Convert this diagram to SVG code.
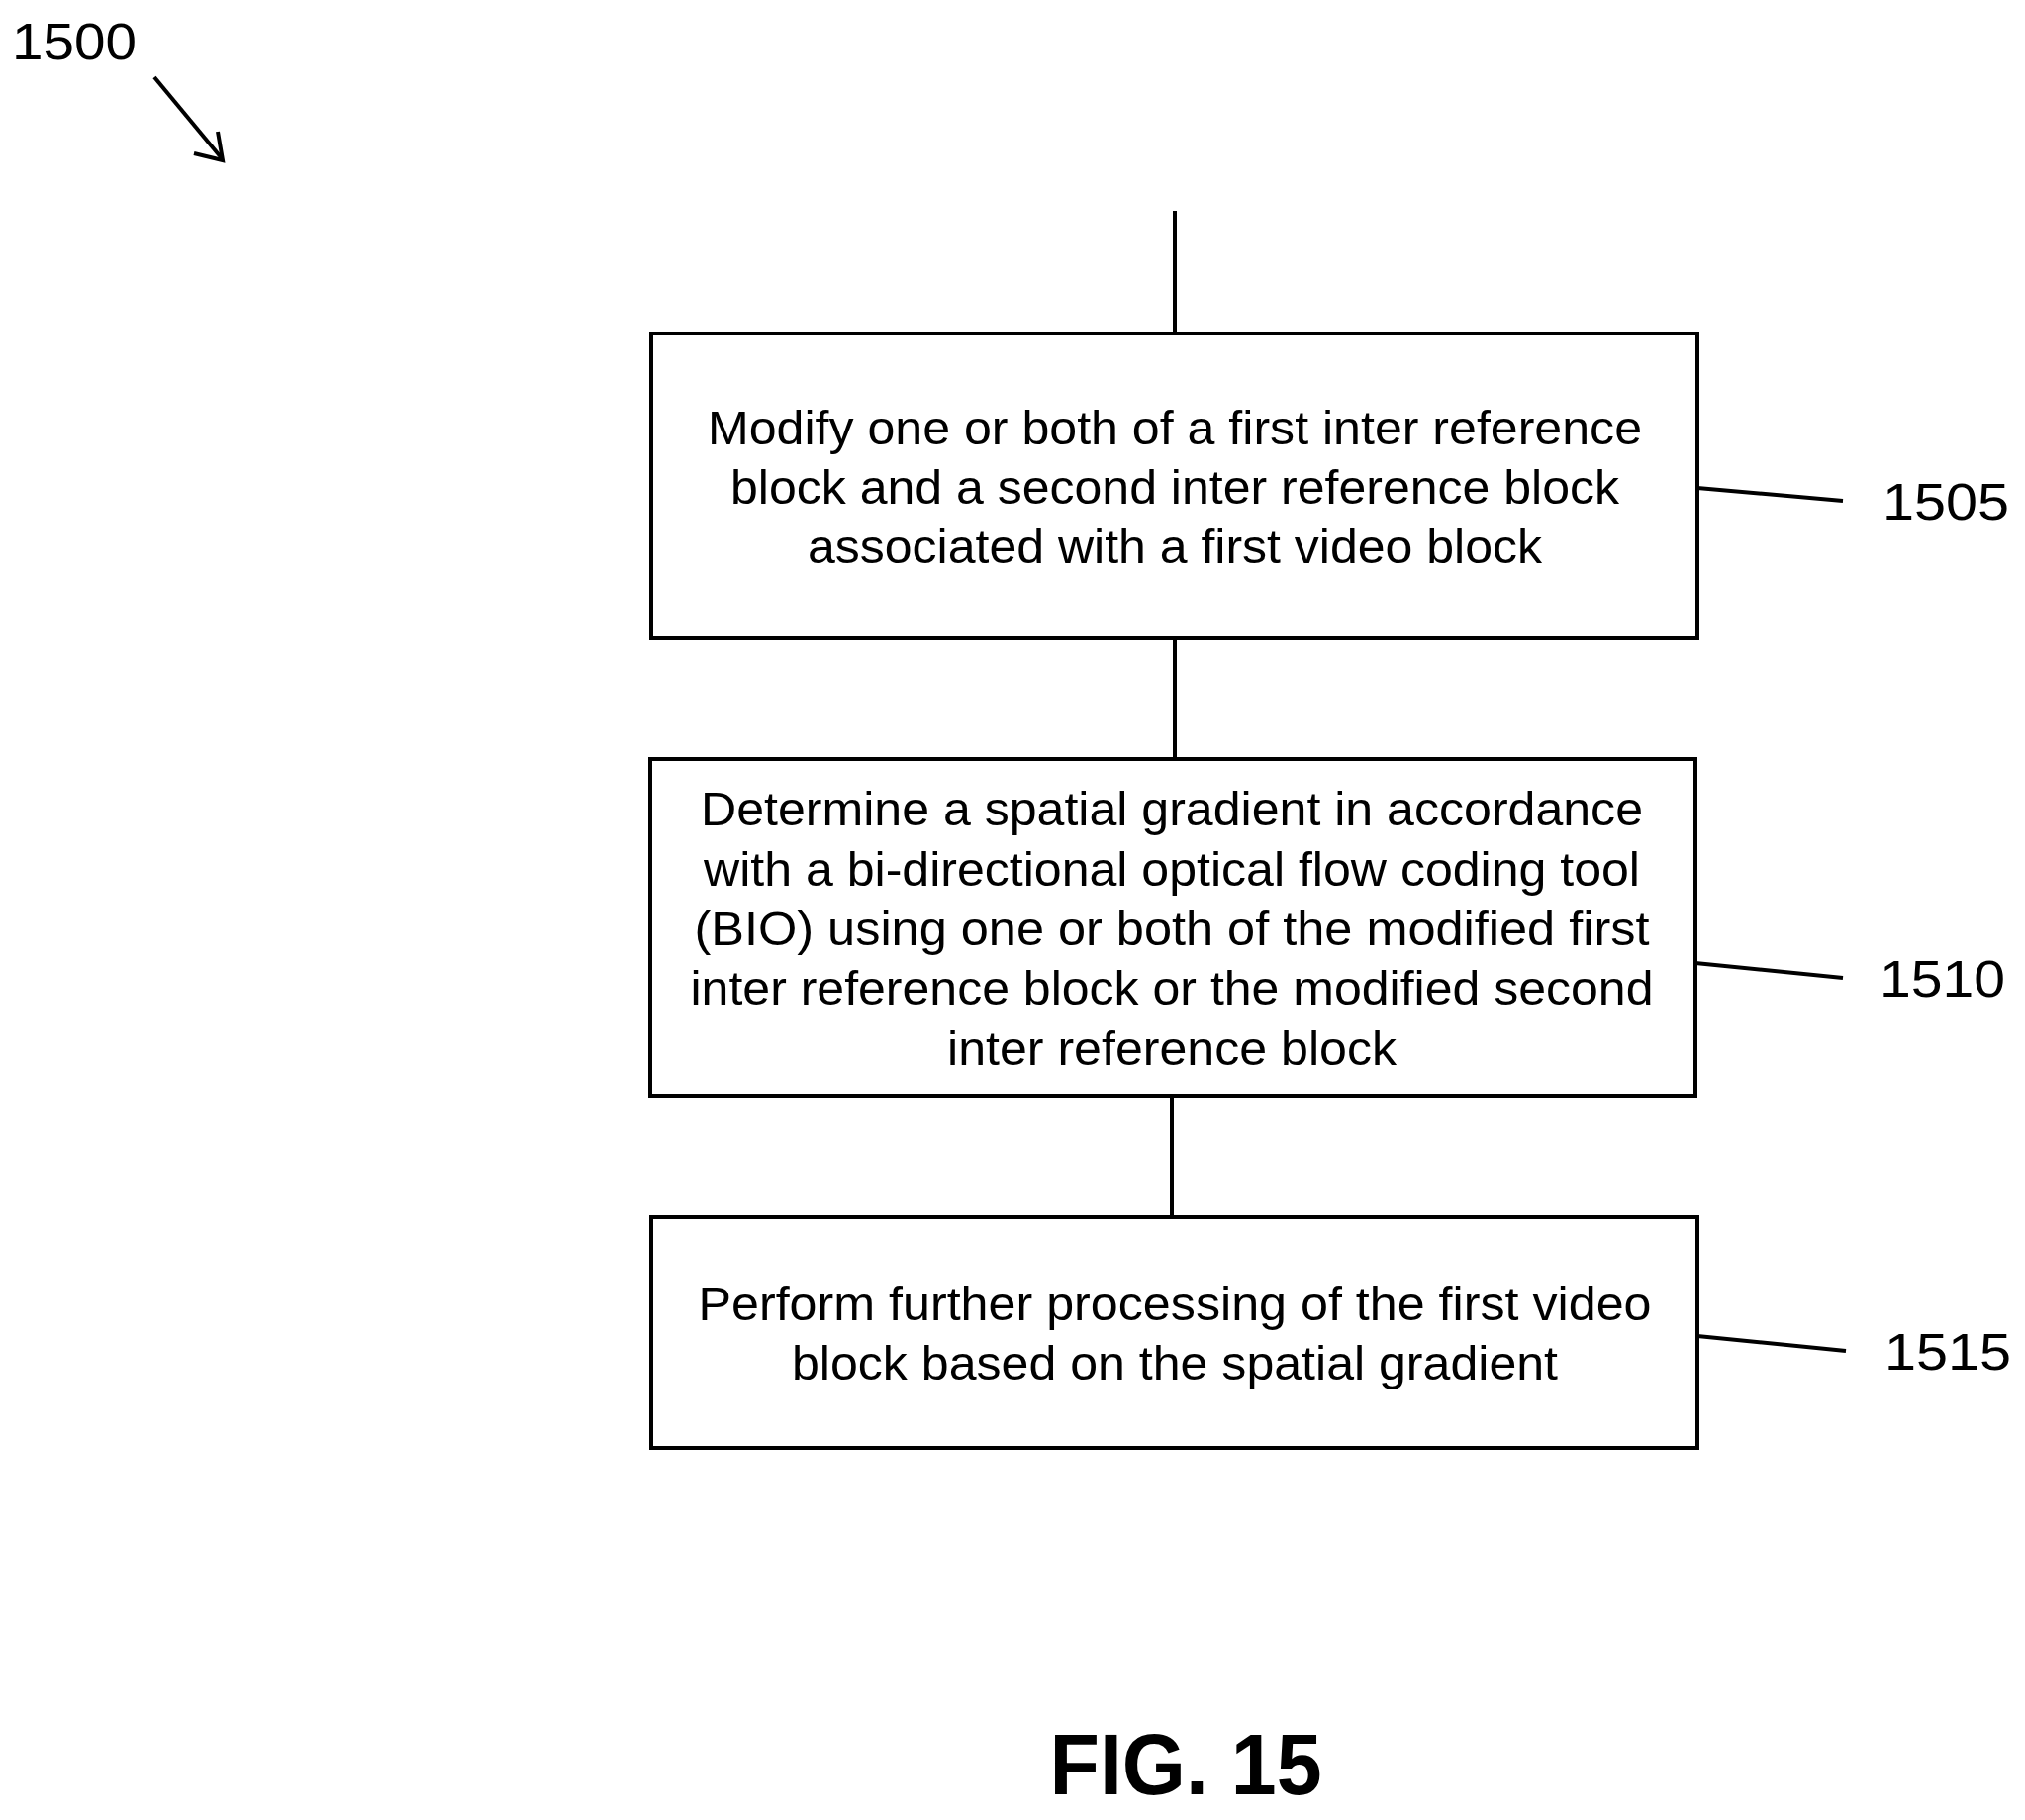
<svg xmlns="http://www.w3.org/2000/svg" width="2046" height="1839" viewBox="0 0 2046 1839">
<style>
.b{fill:#fff;stroke:#000;stroke-width:4}
.t{font-family:"Liberation Sans",Arial,sans-serif;font-size:48px;text-anchor:middle;fill:#000}
.l{font-family:"Liberation Sans",Arial,sans-serif;font-size:52px;fill:#000}
.c{stroke:#000;stroke-width:4;fill:none}
</style>
<rect width="2046" height="1839" fill="#fff"/>
<g transform="translate(-4,-3)">
<g id="connectors">
<line class="c" x1="1191" y1="216" x2="1191" y2="340"/>
<line class="c" x1="1191" y1="648" x2="1191" y2="770"/>
<line class="c" x1="1188" y1="1110" x2="1188" y2="1233"/>
<line class="c" x1="1719" y1="496" x2="1866" y2="509"/>
<line class="c" x1="1717" y1="976" x2="1866" y2="991"/>
<line class="c" x1="1719" y1="1353" x2="1869" y2="1368"/>
<line class="c" x1="160" y1="81" x2="228" y2="163"/>
<polyline class="c" points="200,158 229,165 224,136"/>
</g>
<g id="n1500"><text class="l" x="16" y="63" textLength="126" lengthAdjust="spacingAndGlyphs">1500</text></g>
<g id="n1505">
<rect class="b" x="662" y="340" width="1057" height="308"/>
<text class="t" x="1191" y="452" textLength="944" lengthAdjust="spacingAndGlyphs">Modify one or both of a first inter reference</text>
<text class="t" x="1191" y="512" textLength="898" lengthAdjust="spacingAndGlyphs">block and a second inter reference block</text>
<text class="t" x="1191" y="572" textLength="742" lengthAdjust="spacingAndGlyphs">associated with a first video block</text>
<text class="l" x="1906" y="528" textLength="128" lengthAdjust="spacingAndGlyphs">1505</text>
</g>
<g id="n1510">
<rect class="b" x="661" y="770" width="1056" height="340"/>
<text class="t" x="1188" y="837" textLength="952" lengthAdjust="spacingAndGlyphs">Determine a spatial gradient in accordance</text>
<text class="t" x="1188" y="898" textLength="946" lengthAdjust="spacingAndGlyphs">with a bi-directional optical flow coding tool</text>
<text class="t" x="1188" y="958" textLength="965" lengthAdjust="spacingAndGlyphs">(BIO) using one or both of the modified first</text>
<text class="t" x="1188" y="1018" textLength="973" lengthAdjust="spacingAndGlyphs">inter reference block or the modified second</text>
<text class="t" x="1188" y="1079" textLength="454" lengthAdjust="spacingAndGlyphs">inter reference block</text>
<text class="l" x="1903" y="1010" textLength="127" lengthAdjust="spacingAndGlyphs">1510</text>
</g>
<g id="n1515">
<rect class="b" x="662" y="1233" width="1057" height="233"/>
<text class="t" x="1191" y="1337" textLength="963" lengthAdjust="spacingAndGlyphs">Perform further processing of the first video</text>
<text class="t" x="1191" y="1397" textLength="774" lengthAdjust="spacingAndGlyphs">block based on the spatial gradient</text>
<text class="l" x="1908" y="1387" textLength="128" lengthAdjust="spacingAndGlyphs">1515</text>
</g>
<g id="fig"><text x="1202" y="1816" font-family="Liberation Sans,Arial,sans-serif" font-weight="bold" font-size="88" text-anchor="middle" textLength="275" lengthAdjust="spacingAndGlyphs">FIG. 15</text></g>
</g>
</svg>
